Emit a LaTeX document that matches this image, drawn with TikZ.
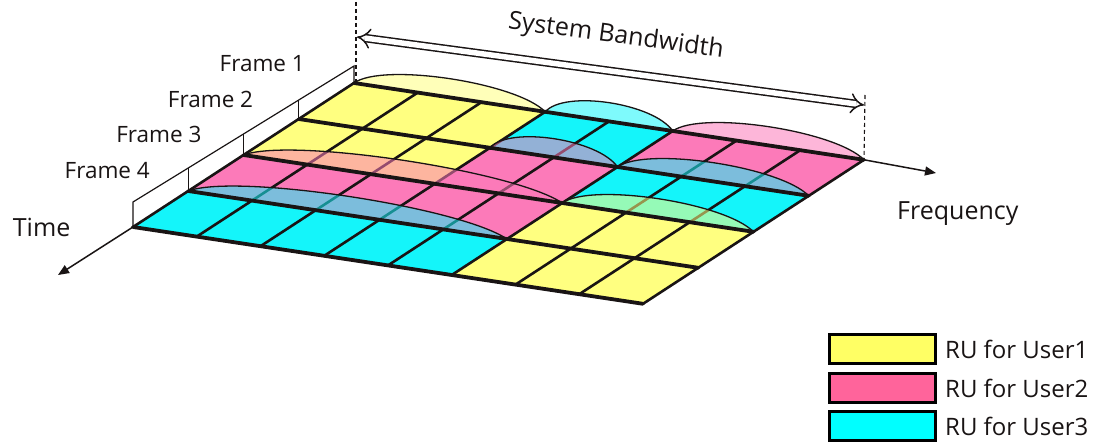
\documentclass[tikz,border=0pt]{standalone}
\usepackage{fontspec}
\setmainfont{Open Sans}
\usetikzlibrary{calc,arrows.meta}
\definecolor{yel}{RGB}{255,255,128}
\definecolor{pnk}{RGB}{252,122,185}
\definecolor{cyn}{RGB}{20,245,250}
\definecolor{ln}{RGB}{25,20,20}
\definecolor{legy}{RGB}{255,255,100}
\definecolor{legp}{RGB}{255,100,155}
\definecolor{legc}{RGB}{0,255,255}
\tikzset{
 rowline/.style={draw=ln, line width=3.8pt, line cap=round},
 colline/.style={draw=ln, line width=2.6pt},
 domeline/.style={draw=ln, line width=1.3pt},
 wallline/.style={draw=ln, line width=1.2pt},
 axisarrow/.style={draw=ln, line width=1.5pt, -{Triangle[length=11pt,width=9pt]}},
 bwarrow/.style={double=white, draw=ln, line width=1.5pt, double distance=5.5pt, {Implies}-{Implies}},
 guide/.style={draw=ln, line width=1.1pt, dash pattern=on 4pt off 3pt},
 lbl/.style={inner sep=0pt, text=ln},
 legbox/.style={draw=black, line width=3pt, minimum width=106pt, minimum height=29pt, inner sep=0pt},
}
\begin{document}
\begin{tikzpicture}[x=1pt,y=-1pt]
\useasboundingbox (0,0) rectangle (1094,443);

% grid corners
\foreach \i in {0,...,8}{
  \foreach \j in {0,...,4}{
    \coordinate (g-\i-\j) at ({354+63.75*\i-55.25*\j},{83+9.6*\i+36*\j});
  }
}
\coordinate (wt0) at (354,66);
\coordinate (wt4) at (133,202);
\coordinate (dl-top) at (356,2);
\coordinate (dl-bot) at (356,82);
\coordinate (dr-top) at (865,95);
\coordinate (bwl) at (357,37);
\coordinate (bwr) at (864,105);
\coordinate (tend) at (58,275);
\coordinate (fend) at (936,173);

% guides and bandwidth arrow
\draw[guide] (dl-top) -- (dl-bot);
\draw[guide] (dr-top) -- (g-8-0);
\draw[bwarrow] (bwl) -- (bwr);
\node[lbl, rotate=-7.6, anchor=base, font=\fontsize{25}{29}\selectfont] (bwlabel) at (615,43) {System Bandwidth};

% cells
\foreach \a/\b/\j/\k/\c in {0/3/0/1/yel, 3/5/0/1/cyn, 5/8/0/1/pnk,
                            0/3/1/2/yel, 3/5/1/2/pnk, 5/8/1/2/cyn,
                            0/5/2/3/pnk, 5/8/2/3/yel,
                            0/5/3/4/cyn, 5/8/3/4/yel}{
  \fill[\c] (g-\a-\j) -- (g-\b-\j) -- (g-\b-\k) -- (g-\a-\k) -- cycle;
}
% column lines
\foreach \i in {0,...,8}{
  \draw[colline] (g-\i-0) -- (g-\i-4);
}
% domes
\foreach \a/\b/\j/\c in {0/3/0/yel, 3/5/0/cyn, 5/8/0/pnk,
                         3/5/1/pnk, 5/8/1/cyn,
                         0/5/2/pnk, 5/8/2/yel,
                         0/5/3/cyn}{
  \fill[\c, fill opacity=0.55] (g-\a-\j) .. controls ($(g-\a-\j)!0.15!(g-\b-\j)+(0,-25)$) and ($(g-\a-\j)!0.85!(g-\b-\j)+(0,-25)$) .. (g-\b-\j) -- cycle;
  \draw[domeline] (g-\a-\j) .. controls ($(g-\a-\j)!0.15!(g-\b-\j)+(0,-25)$) and ($(g-\a-\j)!0.85!(g-\b-\j)+(0,-25)$) .. (g-\b-\j);
}
% row lines
\foreach \j in {0,...,4}{
  \draw[rowline] (g-0-\j) -- (g-8-\j);
}

% wall along the time edge
\draw[wallline] (g-0-0) -- (wt0) -- (wt4) -- (g-0-4);
\foreach \j in {1,2,3}{
  \draw[wallline] (g-0-\j) -- ($(wt0)!{\j/4}!(wt4)$);
}
\foreach \k/\x/\y in {1/305/72, 2/253.3/107.5, 3/201.6/143, 4/150/178.5}{
  \node[lbl, anchor=base east, font=\fontsize{22.5}{27}\selectfont] (frame\k) at (\x,\y) {Frame \k};
}

% axes
\draw[axisarrow] (g-0-4) -- (tend);
\draw[axisarrow] (g-8-0) -- (fend);
\node[lbl, anchor=base west, font=\fontsize{25}{30}\selectfont] (timelabel) at (12.7,237) {Time};
\node[lbl, anchor=base west, font=\fontsize{25}{30}\selectfont] (freqlabel) at (897,220) {Frequency};

% legend
\node[legbox, fill=legy] (ly) at (882.5,349) {};
\node[legbox, fill=legp] (lp) at (882.5,388) {};
\node[legbox, fill=legc] (lc) at (882.5,426) {};
\node[lbl, anchor=base west, font=\fontsize{24}{28}\selectfont] (ty) at (945,358) {RU for User1};
\node[lbl, anchor=base west, font=\fontsize{24}{28}\selectfont] (tp) at (945,397) {RU for User2};
\node[lbl, anchor=base west, font=\fontsize{24}{28}\selectfont] (tc) at (945,435) {RU for User3};
\end{tikzpicture}
\end{document}
